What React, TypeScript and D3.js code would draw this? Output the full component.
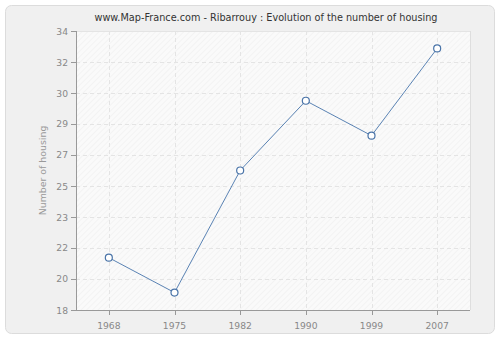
import React from "react";
import * as d3 from "d3";

const years = ["1968", "1975", "1982", "1990", "1999", "2007"];
const housing = [21, 19, 26, 30, 28, 33];
const yTicks = [18, 19.78, 21.56, 23.33, 25.11, 26.89, 28.67, 30.44, 32.22, 34];
const title = "www.Map-France.com - Ribarrouy : Evolution of the number of housing";
const yLabel = "Number of housing";

export default function App() {
  const W = 500, H = 340;
  const left = 76, right = 470, top = 31, bottom = 310;
  const x = d3.scalePoint<string>().domain(years).range([left, right]).padding(0.5);
  const y = d3.scaleLinear().domain([18, 34]).range([bottom, top]);
  const line = d3.line<number>().x((_, i) => x(years[i])!).y((d) => y(d));
  const font = "DejaVu Sans, Verdana, sans-serif";
  return (
    <svg width={W} height={H} style={{ position: "absolute", left: 0, top: 0 }} fontFamily={font}>
      <defs>
        <pattern id="hatch" width="4" height="4" patternUnits="userSpaceOnUse" patternTransform="rotate(45)">
          <rect width="4" height="4" fill="#fafafa" />
          <line x1="0" y1="0" x2="0" y2="4" stroke="#efefef" strokeWidth="1.2" />
        </pattern>
      </defs>
      <rect x={0} y={0} width={W} height={H} fill="#ffffff" />
      <rect x={5.5} y={5.5} width={489} height={328} rx={6} fill="#f0f0f0" stroke="#dcdcdc" />
      <text x={266} y={21} textAnchor="middle" fontSize={9.7} fill="#333">{title}</text>
      <rect x={left} y={top} width={right - left} height={bottom - top} fill="url(#hatch)" />
      <line x1={right + 0.5} x2={right + 0.5} y1={top} y2={bottom} stroke="#dedede" />
      <line x1={left} x2={right} y1={top + 0.5} y2={top + 0.5} stroke="#e4e4e4" />
      {yTicks.slice(1, -1).map((t) => (
        <line key={"gy" + t} x1={left} x2={right} y1={Math.round(y(t)) + 0.5} y2={Math.round(y(t)) + 0.5}
          stroke="#e4e4e4" strokeDasharray="4,3" />
      ))}
      {years.map((yr) => (
        <line key={"gx" + yr} x1={Math.round(x(yr)!) + 0.5} x2={Math.round(x(yr)!) + 0.5} y1={top} y2={bottom}
          stroke="#e4e4e4" strokeDasharray="4,3" />
      ))}
      <line x1={left + 0.5} x2={left + 0.5} y1={top} y2={bottom} stroke="#999" />
      <line x1={left} x2={right} y1={bottom + 0.5} y2={bottom + 0.5} stroke="#999" />
      {yTicks.map((t) => (
        <g key={"ty" + t}>
          <line x1={left - 5} x2={left} y1={Math.round(y(t)) + 0.5} y2={Math.round(y(t)) + 0.5} stroke="#999" />
          <text x={left - 8} y={y(t) + 3.5} textAnchor="end" fontSize={9.2} fill="#888">{Math.round(t)}</text>
        </g>
      ))}
      {years.map((yr) => (
        <g key={"tx" + yr}>
          <line x1={Math.round(x(yr)!) + 0.5} x2={Math.round(x(yr)!) + 0.5} y1={bottom} y2={bottom + 5} stroke="#999" />
          <text x={x(yr)!} y={bottom + 19} textAnchor="middle" fontSize={9.2} fill="#888">{yr}</text>
        </g>
      ))}
      <text transform={`translate(46,${(top + bottom) / 2}) rotate(-90)`} textAnchor="middle" fontSize={9.4} fill="#999">{yLabel}</text>
      <path d={line(housing)!} fill="none" stroke="#5a83b4" strokeWidth={1} />
      {housing.map((v, i) => (
        <circle key={"p" + i} cx={x(years[i])!} cy={y(v)} r={3.5} fill="#fff" stroke="#4a74a8" strokeWidth={1.2} />
      ))}
    </svg>
  );
}
